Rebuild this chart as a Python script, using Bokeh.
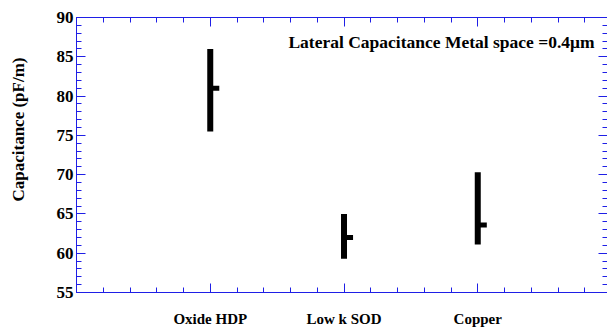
import math
from bokeh.plotting import figure
from bokeh.layouts import row
from bokeh.models import (Range1d, LinearAxis, SingleIntervalTicker, Label,
                          ColumnDataSource, CustomJSTickFormatter)
from bokeh.transform import dodge
from bokeh.embed import file_html
from bokeh.resources import INLINE

categories = ["Oxide HDP", "Low k SOD", "Copper"]
positions = [1, 2, 3]
upper = [86.0, 65.0, 70.3]
lower = [75.5, 59.3, 61.1]
mean = [81.0, 62.0, 63.6]
y_ticks = [55, 60, 65, 70, 75, 80, 85, 90]

AXIS_COLOR = "#1f1fe6"
FONT = "Liberation Serif"
W, H, LEFT_W = 607, 329, 40

# narrow strip holding the rotated y-axis title
lab = figure(width=LEFT_W, height=H, output_backend="svg", toolbar_location=None,
             x_range=Range1d(0, LEFT_W), y_range=Range1d(0, H),
             x_axis_location=None, y_axis_location=None, min_border=0)
lab.outline_line_color = None
lab.xgrid.visible = False
lab.ygrid.visible = False
lab.add_layout(Label(x=18, y=H - 134, text="Capacitance (pF/m)", angle=math.pi / 2,
                     text_align="center", text_baseline="middle", text_font=FONT,
                     text_font_style="bold", text_font_size="17px", text_color="black"))

src = ColumnDataSource(dict(x=positions, lo=lower, hi=upper, m=mean))

p = figure(width=W - LEFT_W, height=H, output_backend="svg", toolbar_location=None,
           x_range=Range1d(0, 3.97), y_range=Range1d(y_ticks[0], y_ticks[-1]),
           min_border_left=76 - LEFT_W, min_border_right=0, min_border_top=17,
           min_border_bottom=35)
p.outline_line_color = None
p.xgrid.visible = False
p.ygrid.visible = False
p.background_fill_color = "white"
p.border_fill_color = "white"

p.segment(x0="x", y0="lo", x1="x", y1="hi", source=src, line_width=6,
          line_color="black", line_cap="butt")
p.rect(x=dodge("x", 0.034, range=p.x_range), y="m", width=9, height=5,
       width_units="screen", height_units="screen", source=src,
       fill_color="black", line_color=None)

xt = SingleIntervalTicker(interval=1, num_minor_ticks=5)
yt = SingleIntervalTicker(interval=5, num_minor_ticks=5)

def style(ax, labels=True):
    ax.axis_line_color = AXIS_COLOR
    ax.axis_line_width = 1
    ax.major_tick_line_color = AXIS_COLOR
    ax.minor_tick_line_color = AXIS_COLOR
    ax.major_tick_in = 9
    ax.major_tick_out = 0
    ax.minor_tick_in = 5
    ax.minor_tick_out = 0
    if not labels:
        ax.formatter = CustomJSTickFormatter(code="return '';")
        ax.major_label_standoff = 0

xa = p.xaxis[0]
xa.ticker = xt
style(xa)
xa.major_label_overrides = {0: ""} | {pos: c for pos, c in zip(positions, categories)}
xa.major_label_text_font = FONT
xa.major_label_text_font_style = "bold"
xa.major_label_text_font_size = "15px"
xa.major_label_text_color = "black"
xa.major_label_standoff = 18

ya = p.yaxis[0]
ya.ticker = yt
style(ya)
ya.major_label_text_font = FONT
ya.major_label_text_font_style = "bold"
ya.major_label_text_font_size = "17px"
ya.major_label_text_color = "black"
ya.major_label_standoff = 3

top = LinearAxis(ticker=xt)
style(top, labels=False)
p.add_layout(top, "above")
right = LinearAxis(ticker=yt)
style(right, labels=False)
p.add_layout(right, "right")

p.add_layout(Label(x=3.873, y=86.84, text="Lateral Capacitance Metal space =0.4\u03bcm",
                   text_align="right", text_baseline="middle", text_font=FONT,
                   text_font_style="bold", text_font_size="17.5px", text_color="black"))

layout = row(lab, p, spacing=0)
open("out.html", "w").write(file_html(layout, INLINE))
